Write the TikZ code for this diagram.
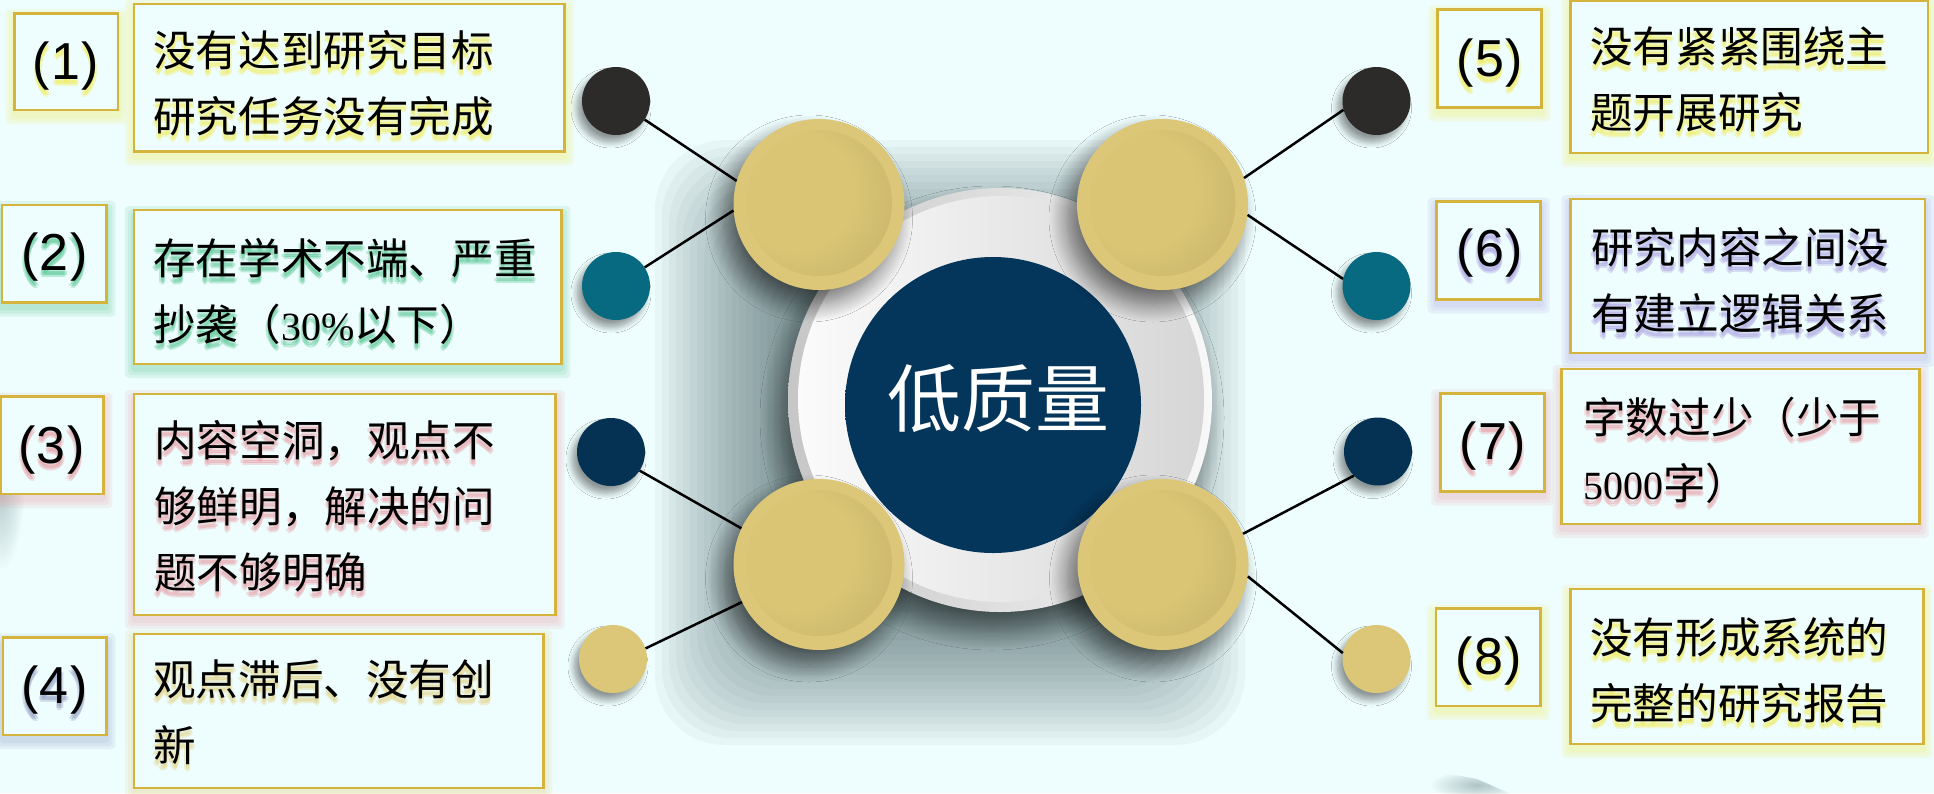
\documentclass[tikz,border=0pt]{standalone}
\usepackage{fontspec}
\setmainfont{Noto Sans CJK SC}
\newfontfamily\numserif{Liberation Serif}
\newfontfamily\numsans{Liberation Sans}
\usetikzlibrary{shadows,shadows.blur,fadings}
\definecolor{bgc}{HTML}{EEFDFD}
\definecolor{boxc}{HTML}{D4B43C}
\definecolor{cblack}{HTML}{2D2B29}
\definecolor{cteal}{HTML}{086A80}
\definecolor{cnavy}{HTML}{053252}
\definecolor{cgold}{HTML}{DBC777}
\definecolor{goldL}{HTML}{D9C574}
\definecolor{goldD}{HTML}{AE9C5D}
\definecolor{navyL}{HTML}{04355A}
\definecolor{navyD}{HTML}{011F36}
\definecolor{rimL}{HTML}{C6C6C6}
\definecolor{rimR}{HTML}{F8F8F8}
\definecolor{faceL}{HTML}{FBFBFB}
\definecolor{faceR}{HTML}{D6D6D6}
\definecolor{shc}{HTML}{3C5A5C}
\definecolor{glY}{HTML}{F2EC50}
\definecolor{glG}{HTML}{4FC48E}
\definecolor{glP}{HTML}{E79AA2}
\definecolor{glB}{HTML}{8E9CC0}
\definecolor{glV}{HTML}{A59CE0}
\definecolor{glT}{HTML}{E3D080}
\pgfdeclareradialshading{goldball}{\pgfpoint{-12bp}{6bp}}{color(0bp)=(goldL); color(20bp)=(goldL); color(64bp)=(goldD)}
\pgfdeclareradialshading{navyball}{\pgfpoint{-15bp}{-12bp}}{color(0bp)=(navyL); color(40bp)=(navyL); color(72bp)=(navyD)}
\tikzfading[name=fz, inner color=transparent!0, outer color=transparent!100]
\tikzset{
  boxline/.style={draw=boxc, line width=2.5pt, fill=bgc},
  tx/.style={anchor=north west, align=left, inner sep=0pt, font=\fontsize{42.6}{66}\selectfont},
  numtx/.style={inner sep=0pt, font=\numsans\fontsize{52}{56}\selectfont},
  goldbig/.style={circle, minimum size=171pt, inner sep=0pt, fill=cgold,
     blur shadow={shadow xshift=-10pt, shadow yshift=-14pt, shadow blur radius=18pt, shadow blur steps=16, shadow opacity=55}},
  goldin/.style={circle, minimum size=146pt, inner sep=0pt, shade, shading=goldball},
  dot/.style={circle, minimum size=68pt, inner sep=0pt,
     blur shadow={shadow xshift=-5pt, shadow yshift=-7pt, shadow blur radius=6pt, shadow blur steps=8, shadow opacity=40}},
  link/.style={draw=black, line width=2.5pt}
}
\newcommand\gtx[5]{%
  \foreach \gx/\gy/\gk in {-1.5/5/a,1.5/5/b,0/7/c,0/3/d}{%
    \node[#4, text=#2, text opacity=.32, xshift=\gx pt, yshift=-\gy pt] (#1\gk) at #3 {#5};}
  \node[#4] (#1) at #3 {#5};
}
\newcommand\gbx[5]{%
  \foreach \e in {3,6,9}{\fill[#1, opacity=.13, rounded corners=4pt] (#2-\e,#3-\e+5) rectangle (#4+\e,#5+\e+5);}
  \draw[boxline] (#2,#3) rectangle (#4,#5);
}
\newcommand\pn[1]{(\kern1.5pt#1\kern1.5pt)}
\begin{document}
\begin{tikzpicture}[x=1pt,y=-1pt]
\useasboundingbox (0,0) rectangle (1934,793);
\fill[bgc] (0,0) rectangle (1934,793);
% background decorations
\fill[shc, opacity=.35, path fading=fz] (-25,390) rectangle (25,570);
\fill[shc, opacity=.35, path fading=fz] (1430,770) -- (1477,779) -- (1524,800) -- (1430,800) -- cycle;
% big soft shadow (light from the right)
\foreach \i in {0,...,19}{\fill[shc, opacity=.045, rounded corners=70pt] (655+\i*7,140+\i*7) rectangle (1245-\i*7,745-\i*7);}
% central ring
\node[circle, minimum size=424pt, inner sep=0pt, left color=rimL, right color=rimR,
  blur shadow={shadow xshift=-8pt, shadow yshift=-18pt, shadow blur radius=20pt, shadow blur steps=16, shadow opacity=50}] (ring) at (1000,400) {};
\node[circle, minimum size=406pt, inner sep=0pt, left color=faceL, right color=faceR] (ringin) at (1001,399) {};
\node[circle, minimum size=296pt, inner sep=0pt, shade, shading=navyball] (core) at (993,405) {};
\node[text=white, inner sep=0pt, font=\fontsize{74}{80}\selectfont] (title) at (998.5,399) {低质量};
% gold circles
\node[goldbig] (gTL) at (819,204.5) {};
\node[goldin] (gTLi) at (819,203) {};
\node[goldbig] (gTR) at (1162.5,204.5) {};
\node[goldin] (gTRi) at (1162.5,203) {};
\node[goldbig] (gBL) at (819,564.5) {};
\node[goldin] (gBLi) at (819,563) {};
\node[goldbig] (gBR) at (1163,564.5) {};
\node[goldin] (gBRi) at (1163,563) {};
% small dots
\node[dot, fill=cblack] (d1) at (616,101) {};
\node[dot, fill=cteal] (d2) at (616,286) {};
\node[dot, fill=cnavy] (d3) at (611,452) {};
\node[dot, fill=cgold] (d4) at (613,659) {};
\node[dot, fill=cblack] (d5) at (1376.5,101) {};
\node[dot, fill=cteal] (d6) at (1376.5,286) {};
\node[dot, fill=cnavy] (d7) at (1378,451.5) {};
\node[dot, fill=cgold] (d8) at (1376.5,659) {};
% links
\draw[link] (d1.-33) -- (gTL.164);
\draw[link] (d2.33) -- (gTL.184);
\draw[link] (d3.-33) -- (gBL.155);
\draw[link] (d4.18) -- (gBL.206.5);
\draw[link] (d5.195) -- (gTR.18);
\draw[link] (d6.168) -- (gTR.-7.5);
\draw[link] (d7.225) -- (gBR.21);
\draw[link] (d8.170) -- (gBR.-8);
% boxes
\gbx{glY}{14.5}{13.3}{118}{110}
\gbx{glY}{134}{4}{564.5}{151.7}
\gbx{glG}{2}{205}{106.4}{302.7}
\gbx{glG}{134}{210}{561.4}{364}
\gbx{glP}{0.5}{396.7}{103.3}{494}
\gbx{glP}{134}{394}{555.7}{615}
\gbx{glB}{3}{637.7}{106.4}{735}
\gbx{glT}{134}{634}{543.4}{788}
\gbx{glY}{1437.3}{9.3}{1541.4}{107.3}
\gbx{glY}{1570.5}{1}{1928}{153}
\gbx{glV}{1436.6}{201.7}{1540.7}{299.3}
\gbx{glV}{1570.5}{199}{1925}{353}
\gbx{glP}{1440.4}{393.3}{1544.5}{491.7}
\gbx{glP}{1561.7}{369}{1919.5}{524}
\gbx{glY}{1435.8}{608.3}{1540.7}{706}
\gbx{glY}{1570.5}{589}{1923.4}{744}
% numbers
\gtx{n1}{glY}{(66,66.5)}{numtx}{\pn{1}}
\gtx{n2}{glG}{(54.5,257.5)}{numtx}{\pn{2}}
\gtx{n3}{glP}{(51.5,450.5)}{numtx}{\pn{3}}
\gtx{n4}{glB}{(54.5,690.5)}{numtx}{\pn{4}}
\gtx{n5}{glY}{(1489.7,63.5)}{numtx}{\pn{5}}
\gtx{n6}{glV}{(1489.7,253.3)}{numtx}{\pn{6}}
\gtx{n7}{glP}{(1492.7,446.5)}{numtx}{\pn{7}}
\gtx{n8}{glY}{(1489,661.5)}{numtx}{\pn{8}}
% texts
\gtx{t1}{glY}{(153,30)}{tx}{没有达到研究目标\\研究任务没有完成}
\gtx{t2}{glG}{(153,238)}{tx}{存在学术不端、严重\\抄袭（{\numserif\fontsize{40}{66}\selectfont 30\%}以下）}
\gtx{t3}{glP}{(154,420)}{tx}{内容空洞，观点不\\够鲜明，解决的问\\题不够明确}
\gtx{t4}{glT}{(153,660)}{tx}{观点滞后、没有创\\新}
\gtx{t5}{glY}{(1590,27)}{tx}{没有紧紧围绕主\\题开展研究}
\gtx{t6}{glV}{(1591,227)}{tx}{研究内容之间没\\有建立逻辑关系}
\gtx{t7}{glP}{(1583,397)}{tx}{字数过少（少于\\{\numserif\fontsize{40}{66}\selectfont 5000}字）}
\gtx{t8}{glY}{(1590,617)}{tx}{没有形成系统的\\完整的研究报告}
\end{tikzpicture}
\end{document}
